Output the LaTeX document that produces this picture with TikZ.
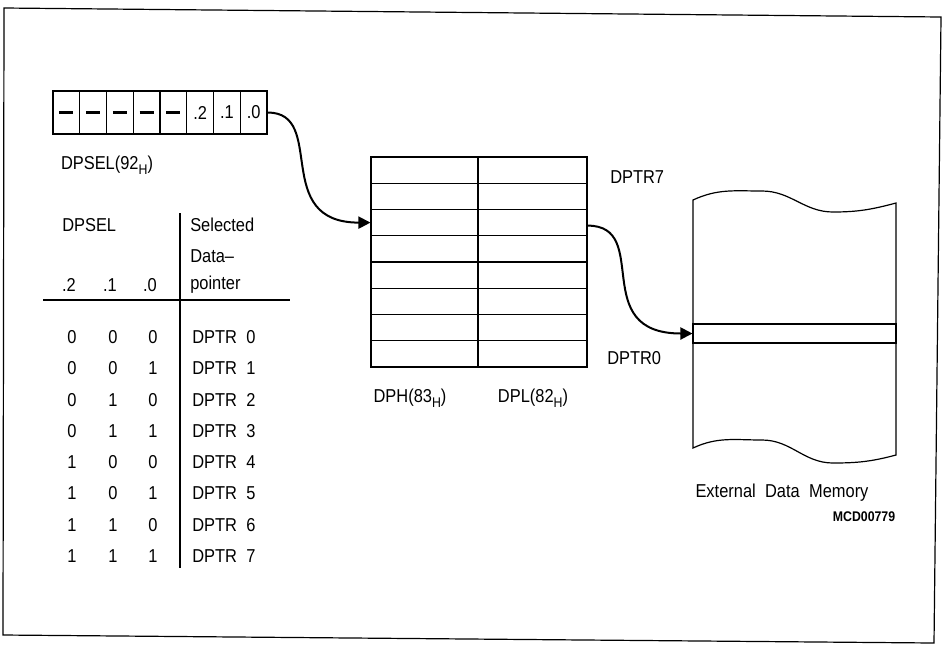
\documentclass[tikz,border=0pt]{standalone}
\usepackage{fontspec}
\setmainfont{Liberation Sans}[FakeStretch=0.88]
\usepackage{tikz}
\usetikzlibrary{arrows.meta,calc}
\newcommand{\subH}{\raisebox{-0.5ex}{\fontsize{10.5}{11}\selectfont H}}
\newcommand{\bitdash}{\rule{10.5pt}{1.6pt}}
\begin{document}
\begin{tikzpicture}[x=0.75pt,y=-0.75pt,
  txt/.style={font=\fontsize{14}{16}\selectfont,inner sep=0pt},
  bitcell/.style={draw,line width=0.9pt,minimum width=26.75*0.75pt,minimum height=43*0.75pt,inner sep=0pt,font=\fontsize{14}{16}\selectfont},
  regcell/.style={draw,line width=0.8pt,minimum height=26.25*0.75pt,inner sep=0pt},
  arr/.style={-{Triangle[length=9pt,width=9pt]},line width=1.5pt}]
\useasboundingbox (0,0) rectangle (945,644);
\draw[line width=0.9pt] (4,8) -- (941,17) -- (934,643) -- (3,635) -- cycle;
% DPSEL register
\node[bitcell] (b7) at (66.4,112.5) {\bitdash};
\node[bitcell] (b6) at (93.1,112.5) {\bitdash};
\node[bitcell] (b5) at (119.9,112.5) {\bitdash};
\node[bitcell] (b4) at (146.6,112.5) {\bitdash};
\node[bitcell] (b3) at (173.4,112.5) {\bitdash};
\node[bitcell] (b2) at (200.1,112.5) {.2};
\node[bitcell] (b1) at (226.9,112.5) {.1};
\node[bitcell] (b0) at (253.6,112.5) {.0};
\node[txt] (sel) at (107,165) {DPSEL(92\subH)};
% selection table
\node[txt,anchor=west] (hsel) at (62,225) {DPSEL};
\node[txt] (h2) at (69,285) {.2};
\node[txt] (h1) at (110,285) {.1};
\node[txt] (h0) at (150,285) {.0};
\node[txt,anchor=west] (hs1) at (190,225) {Selected};
\node[txt,anchor=west] (hs2) at (190,256) {Data--};
\node[txt,anchor=west] (hs3) at (190,285) {pointer};
\draw[line width=0.8pt] (43,300) -- (290,300);
\draw[line width=0.8pt] (180,213) -- (180,568);
\foreach \k/\a/\b/\c in {0/0/0/0,1/0/0/1,2/0/1/0,3/0/1/1,4/1/0/0,5/1/0/1,6/1/1/0,7/1/1/1}{
  \node[txt] (t\k a) at (72,337+31.3*\k) {\a};
  \node[txt] (t\k b) at (113,337+31.3*\k) {\b};
  \node[txt] (t\k c) at (153,337+31.3*\k) {\c};
  \node[txt,anchor=west] (t\k p) at (192,337+31.3*\k) {DPTR\enspace\k};
}
% data pointer registers
\foreach \k in {0,...,7}{
  \node[regcell,minimum width=107*0.75pt] (dph\k) at (424.5,170.1+26.25*7-26.25*\k) {};
  \node[regcell,minimum width=109*0.75pt] (dpl\k) at (532.5,170.1+26.25*7-26.25*\k) {};
}
\node[txt,anchor=west] (p7) at (610,177) {DPTR7};
\node[txt,anchor=west] (p0) at (607,358) {DPTR0};
\node[txt] (dph) at (410,398) {DPH(83\subH)};
\node[txt] (dpl) at (533,398) {DPL(82\subH)};
% external memory
\draw[line width=0.9pt] (693,200) to[out=25,in=180] (762,191) to[out=0,in=180] (833,212)
  to[out=0,in=195] (896,203) -- (896,455) to[out=195,in=0] (833,463) to[out=180,in=0] (762,440)
  to[out=180,in=25] (693,448) -- cycle;
\node[draw,line width=0.8pt,minimum width=203*0.75pt,minimum height=19*0.75pt,inner sep=0pt] (slot) at (794.5,333.5) {};
\node[txt] (mem) at (782,493) {External\enspace Data\enspace Memory};
\node[font=\fontsize{10.5}{12}\selectfont\bfseries,inner sep=0pt] (code) at (864,517) {MCD00779};
\draw[arr] (b0.east) .. controls +(60,0) and +(-100,0) .. (dph5.west);
\draw[arr] ($(dpl5.east)+(0,3)$) .. controls +(65,0) and +(-105,0) .. (slot.west);
\end{tikzpicture}
\end{document}
